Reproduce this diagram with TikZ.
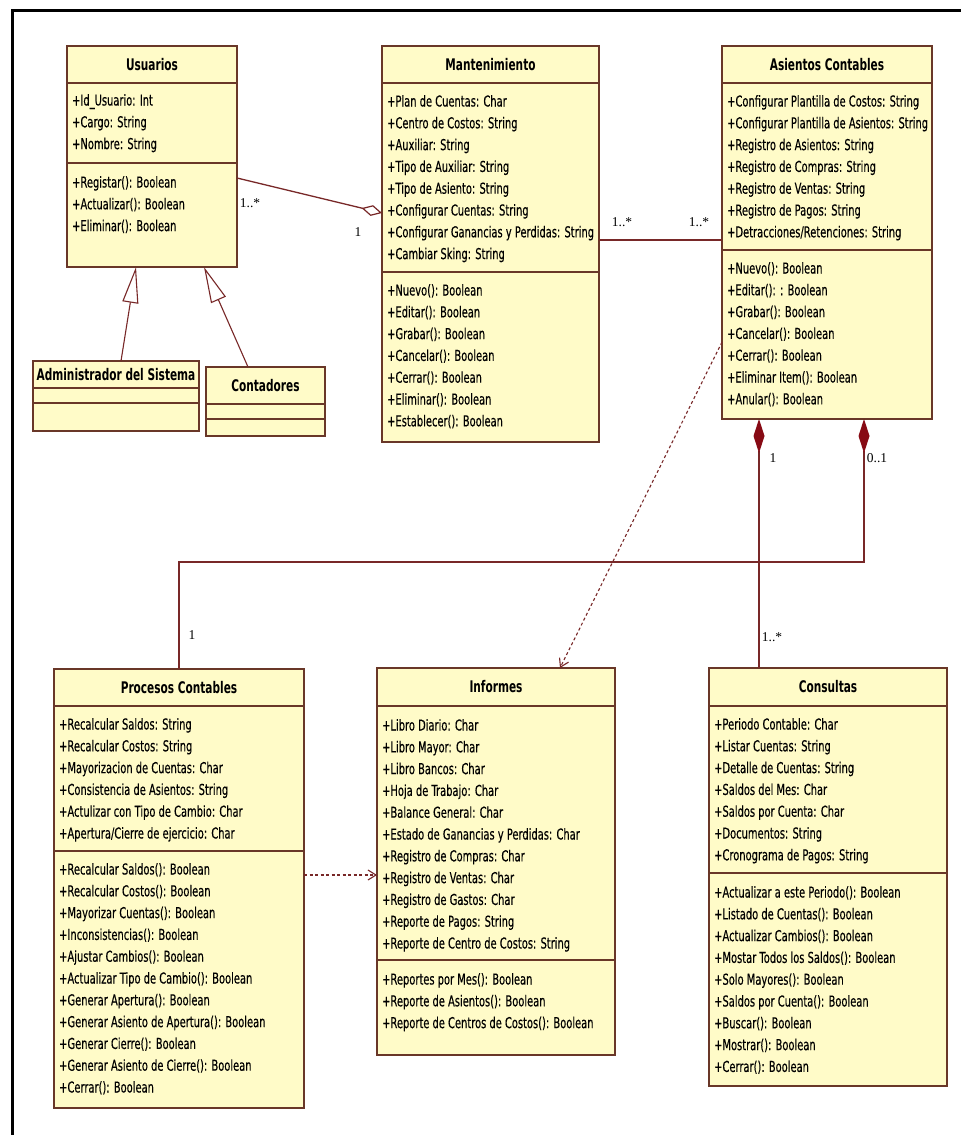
\documentclass[tikz,border=0pt]{standalone}
\usepackage{fontspec}
\usetikzlibrary{arrows.meta,calc}
\newfontfamily\umlfont{DejaVu Sans}[FakeStretch=0.66, UprightFeatures={FakeBold=0.35}]
\newfontfamily\multfont{Liberation Serif}
\definecolor{classfill}{RGB}{255,251,200}
\definecolor{classline}{RGB}{105,55,40}
\definecolor{linkline}{RGB}{120,40,40}
\definecolor{compred}{RGB}{135,10,20}

\tikzset{
  classbox/.style={draw=classline, fill=classfill, line width=1.6pt, inner sep=0pt, outer sep=0pt},
  divider/.style={draw=classline, line width=1.4pt},
  classtitle/.style={font=\umlfont\bfseries\fontsize{16}{19}\selectfont, inner sep=0pt, text height=11.5pt, text depth=0pt},
  member/.style={font=\umlfont\fontsize{15}{18}\selectfont, anchor=west, inner sep=0pt, text height=11pt, text depth=0pt},
  mult/.style={font=\multfont\fontsize{13.5}{16}\selectfont, inner sep=0pt},
  assoc/.style={draw=linkline, line width=1.3pt},
  aggr/.style={assoc, -{Diamond[open, length=21pt, width=11pt, line width=1.2pt]}},
  compo/.style={assoc, -{Diamond[length=34pt, width=11pt, color=compred, fill=compred]}},
  gen/.style={draw=linkline, line width=1.1pt, -{Triangle[open, length=36pt, width=16pt, line width=1.1pt]}},
  depend/.style={draw=linkline, line width=1.1pt, dash pattern=on 3pt off 2.5pt,
    -{Straight Barb[length=8pt, width=10pt, line width=1.1pt]}},
  frame/.style={draw=black, line width=3pt}
}

% class box: name, left, top, right, title divider, member divider, bottom, title
\newcommand{\umlclass}[8]{%
  \node[classbox, anchor=north west, minimum width={(#4)-(#2)}, minimum height={(#7)-(#3)}] (#1) at (#2,#3) {};
  \draw[divider] (#2,#5) -- (#4,#5);
  \draw[divider] (#2,#6) -- (#4,#6);
  \node[classtitle] (#1-title) at ({(#2+#4)/2},{(#3+#5)/2}) {#8};
}
% member lines: name prefix, x, y of first line, list
\newcommand{\umlmembers}[4]{%
  \foreach \m [count=\i] in {#4} \node[member] (#1-\i) at (#2,{#3+(\i-1)*21.8}) {\m};
}

\begin{document}
\begin{tikzpicture}[x=1pt, y=-1pt]
\useasboundingbox (0,0) rectangle (961,1135);
\fill[white] (0,0) rectangle (961,1135);
\draw[frame] (961,10) -- (12,10) -- (12,1135);

% Usuarios
\umlclass{usr}{67}{46}{237}{83}{163}{267}{Usuarios}
\umlmembers{usr-a}{72}{100}{+Id\_Usuario: Int, +Cargo: String, +Nombre: String}
\umlmembers{usr-m}{72}{182}{+Registar(): Boolean, +Actualizar(): Boolean, +Eliminar(): Boolean}

% Administrador del Sistema and Contadores
\umlclass{adm}{33}{361}{199}{388}{403}{431}{Administrador del Sistema}
\umlclass{cont}{206}{367}{325}{404}{419}{436}{Contadores}

% Mantenimiento
\umlclass{mant}{382}{46}{599}{83}{272}{442}{Mantenimiento}
\umlmembers{mant-a}{387}{101}{+Plan de Cuentas: Char, +Centro de Costos: String, +Auxiliar: String,
  +Tipo de Auxiliar: String, +Tipo de Asiento: String, +Configurar Cuentas: String,
  +Configurar Ganancias y Perdidas: String, +Cambiar Sking: String}
\umlmembers{mant-m}{387}{290}{+Nuevo(): Boolean, +Editar(): Boolean, +Grabar(): Boolean,
  +Cancelar(): Boolean, +Cerrar(): Boolean, +Eliminar(): Boolean, +Establecer(): Boolean}

% Asientos Contables
\umlclass{asi}{722}{46}{932}{83}{250}{419}{Asientos Contables}
\umlmembers{asi-a}{727}{101}{+Configurar Plantilla de Costos: String, +Configurar Plantilla de Asientos: String,
  +Registro de Asientos: String, +Registro de Compras: String, +Registro de Ventas: String,
  +Registro de Pagos: String, +Detracciones/Retenciones: String}
\umlmembers{asi-m}{727}{268}{+Nuevo(): Boolean, +Editar(): : Boolean, +Grabar(): Boolean,
  +Cancelar(): Boolean, +Cerrar(): Boolean, +Eliminar Item(): Boolean, +Anular(): Boolean}

% Procesos Contables
\umlclass{proc}{54}{669}{304}{706}{851}{1108}{Procesos Contables}
\umlmembers{proc-a}{59}{724}{+Recalcular Saldos: String, +Recalcular Costos: String,
  +Mayorizacion de Cuentas: Char, +Consistencia de Asientos: String,
  +Actulizar con Tipo de Cambio: Char, +Apertura/Cierre de ejercicio: Char}
\umlmembers{proc-m}{59}{869}{+Recalcular Saldos(): Boolean, +Recalcular Costos(): Boolean,
  +Mayorizar Cuentas(): Boolean, +Inconsistencias(): Boolean, +Ajustar Cambios(): Boolean,
  +Actualizar Tipo de Cambio(): Boolean, +Generar Apertura(): Boolean,
  +Generar Asiento de Apertura(): Boolean, +Generar Cierre(): Boolean,
  +Generar Asiento de Cierre(): Boolean, +Cerrar(): Boolean}

% Informes
\umlclass{inf}{377}{668}{615}{706}{960}{1055}{Informes}
\umlmembers{inf-a}{382}{725}{+Libro Diario: Char, +Libro Mayor: Char, +Libro Bancos: Char,
  +Hoja de Trabajo: Char, +Balance General: Char, +Estado de Ganancias y Perdidas: Char,
  +Registro de Compras: Char, +Registro de Ventas: Char, +Registro de Gastos: Char,
  +Reporte de Pagos: String, +Reporte de Centro de Costos: String}
\umlmembers{inf-m}{382}{979}{+Reportes por Mes(): Boolean, +Reporte de Asientos(): Boolean,
  +Reporte de Centros de Costos(): Boolean}

% Consultas
\umlclass{cons}{709}{668}{947}{706}{873}{1086}{Consultas}
\umlmembers{cons-a}{714}{724}{+Periodo Contable: Char, +Listar Cuentas: String,
  +Detalle de Cuentas: String, +Saldos del Mes: Char, +Saldos por Cuenta: Char,
  +Documentos: String, +Cronograma de Pagos: String}
\umlmembers{cons-m}{714}{892}{+Actualizar a este Periodo(): Boolean, +Listado de Cuentas(): Boolean,
  +Actualizar Cambios(): Boolean, +Mostar Todos los Saldos(): Boolean, +Solo Mayores(): Boolean,
  +Saldos por Cuenta(): Boolean, +Buscar(): Boolean, +Mostrar(): Boolean, +Cerrar(): Boolean}

% generalizations
\draw[gen] ($(adm.north west)+(88,0)$) -- ($(usr.south west)+(69,0)$);
\draw[gen] ($(cont.north west)+(42,0)$) -- ($(usr.south west)+(137,0)$);

% associations
\draw[aggr] ($(usr.north east)+(0,132)$) -- ($(mant.north west)+(0,167)$);
\draw[assoc] ($(mant.north east)+(0,194)$) -- ($(asi.north west)+(0,194)$);
\draw[compo] ($(cons.north west)+(50,0)$) -- ($(asi.south west)+(37,0)$);
\draw[compo] ($(proc.north west)+(125,0)$) |- ($(asi.south west)+(142,143)$) -- ($(asi.south west)+(142,0)$);

% dependencies
\draw[depend] ($(asi.north west)+(0,296)$) -- ($(inf.north west)+(183,0)$);
\draw[depend] ($(proc.north east)+(0,206)$) -- ($(inf.north west)+(0,207)$);

% multiplicities
\node[mult] (m-usr) at (250,203) {1..*};
\node[mult] (m-mant1) at (358,232) {1};
\node[mult] (m-mant2) at (622,222) {1..*};
\node[mult] (m-asi) at (699,222) {1..*};
\node[mult] (m-asi1) at (773,458) {1};
\node[mult] (m-asi2) at (877,458) {0..1};
\node[mult] (m-cons) at (772,637) {1..*};
\node[mult] (m-proc) at (192,635) {1};
\end{tikzpicture}
\end{document}
